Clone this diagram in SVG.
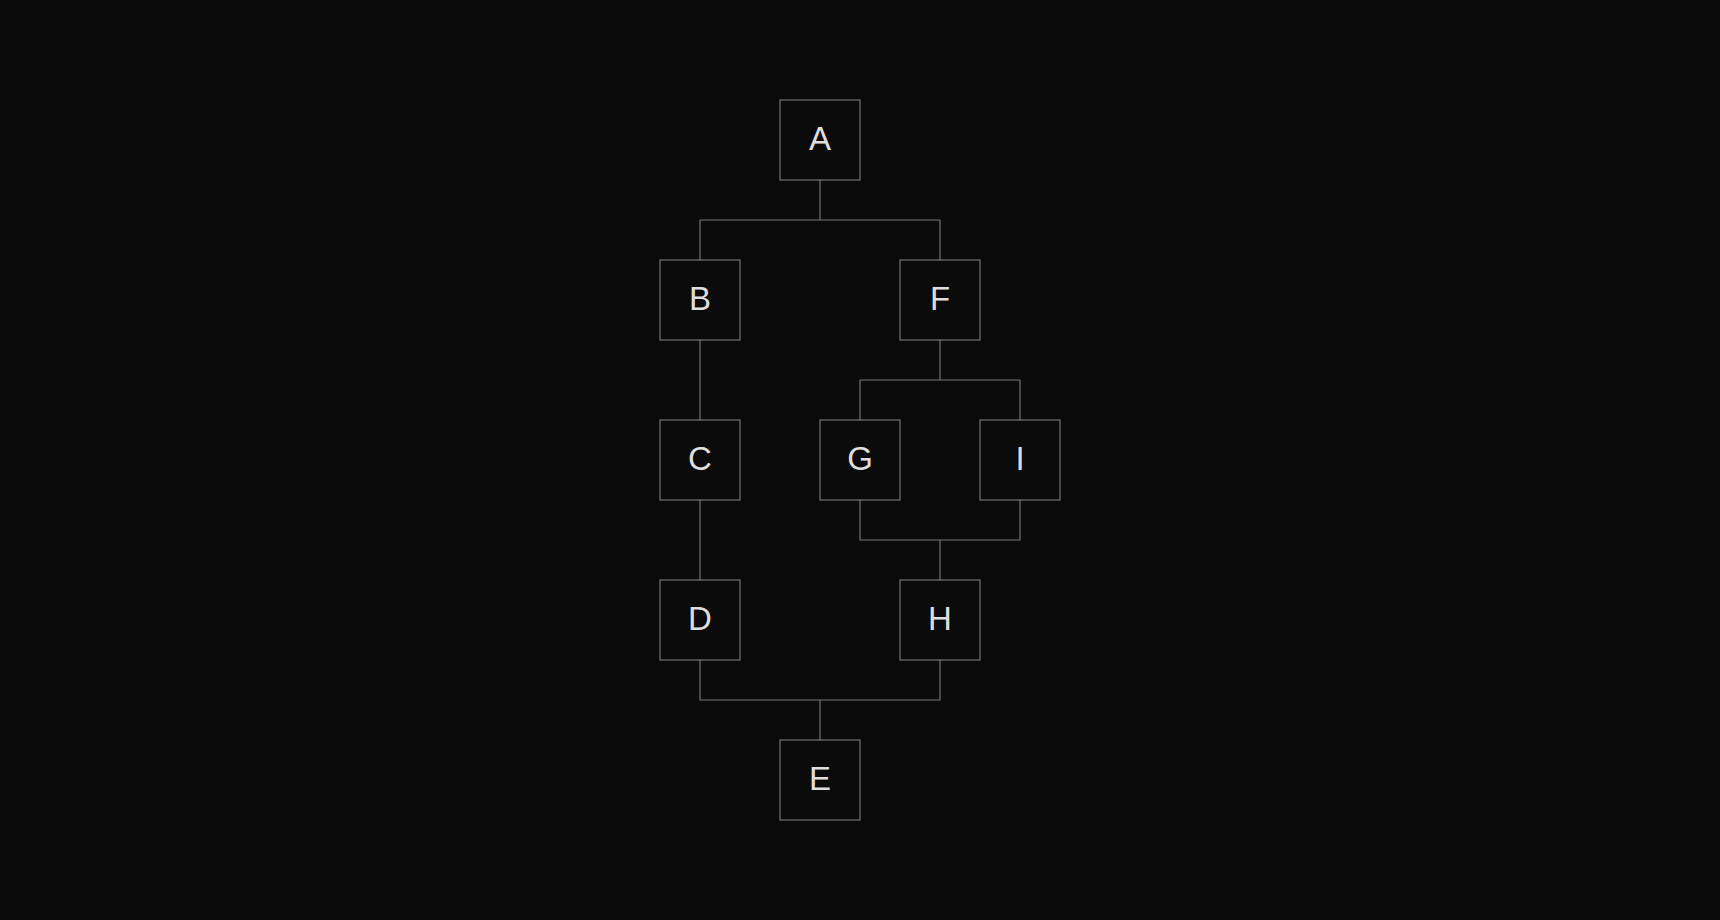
<svg xmlns="http://www.w3.org/2000/svg" width="1720" height="920" viewBox="0 0 1720 920">
<style>
.bg{fill:#0b0b0b}
.box{fill:#0b0b0b;stroke:#747474;stroke-width:1.2}
.lbl{fill:#dedede;font-family:"Liberation Sans",Arial,sans-serif;font-size:33px;text-anchor:middle}
.wire{fill:none;stroke:#747474;stroke-width:1.2}
</style>
<rect class="bg" x="0" y="0" width="1720" height="920"/>
<g id="connectors">
<path class="wire" d="M820 180 V220 M700 220 H940 M700 220 V260 M940 220 V260"/>
<path class="wire" d="M700 340 V420 M700 500 V580"/>
<path class="wire" d="M940 340 V380 M860 380 H1020 M860 380 V420 M1020 380 V420"/>
<path class="wire" d="M860 500 V540 H1020 V500 M940 540 V580"/>
<path class="wire" d="M700 660 V700 H940 V660 M820 700 V740"/>
</g>
<g id="node-A"><rect class="box" x="780" y="100" width="80" height="80"/><text class="lbl" x="820" y="150">A</text></g>
<g id="node-B"><rect class="box" x="660" y="260" width="80" height="80"/><text class="lbl" x="700" y="310">B</text></g>
<g id="node-F"><rect class="box" x="900" y="260" width="80" height="80"/><text class="lbl" x="940" y="310">F</text></g>
<g id="node-C"><rect class="box" x="660" y="420" width="80" height="80"/><text class="lbl" x="700" y="470">C</text></g>
<g id="node-G"><rect class="box" x="820" y="420" width="80" height="80"/><text class="lbl" x="860" y="470">G</text></g>
<g id="node-I"><rect class="box" x="980" y="420" width="80" height="80"/><text class="lbl" x="1020" y="470">I</text></g>
<g id="node-D"><rect class="box" x="660" y="580" width="80" height="80"/><text class="lbl" x="700" y="630">D</text></g>
<g id="node-H"><rect class="box" x="900" y="580" width="80" height="80"/><text class="lbl" x="940" y="630">H</text></g>
<g id="node-E"><rect class="box" x="780" y="740" width="80" height="80"/><text class="lbl" x="820" y="790">E</text></g>
</svg>
